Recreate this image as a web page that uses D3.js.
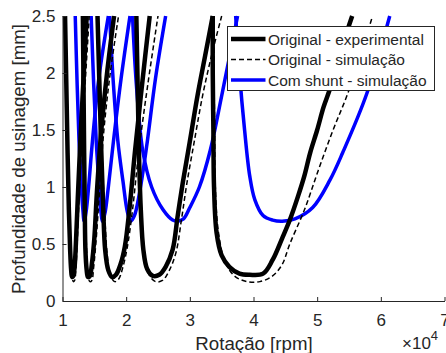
<!DOCTYPE html>
<html>
<head>
<meta charset="utf-8">
<script src="https://cdn.jsdelivr.net/npm/d3@7"></script>
<style>
  body { margin: 0; background: #fff; }
  text { font-family: "Liberation Sans", Arial, sans-serif; fill: #262626; }
</style>
</head>
<body>
<div id="chart"></div>
<script>
// lobes: [rotation (x1e4 rpm), depth (mm)]
var expLobes = [
  [[1.04,2.5],[1.06,1.9],[1.08,1.3],[1.10,0.8],[1.12,0.45],[1.135,0.28],[1.15,0.21],[1.17,0.22],[1.19,0.3],[1.21,0.5],[1.24,0.9],[1.28,1.4],[1.33,1.95],[1.38,2.5]],
  [[1.32,2.5],[1.33,1.9],[1.34,1.3],[1.35,0.8],[1.36,0.45],[1.38,0.27],[1.40,0.21],[1.43,0.22],[1.46,0.32],[1.50,0.55],[1.54,0.95],[1.61,1.5],[1.70,2.0],[1.81,2.5]],
  [[1.55,2.5],[1.58,1.9],[1.61,1.3],[1.64,0.8],[1.67,0.45],[1.72,0.27],[1.78,0.21],[1.84,0.23],[1.91,0.32],[1.98,0.48],[2.05,0.8],[2.14,1.32],[2.25,1.9],[2.37,2.5]],
  [[2.16,2.5],[2.18,1.9],[2.2,1.32],[2.23,0.8],[2.27,0.45],[2.33,0.28],[2.42,0.22],[2.52,0.23],[2.62,0.3],[2.73,0.45],[2.81,0.75],[2.89,1.04],[3.0,1.4],[3.12,1.8],[3.24,2.15],[3.36,2.5]],
  [[3.36,2.5],[3.36,2.0],[3.37,1.5],[3.38,1.0],[3.42,0.6],[3.5,0.4],[3.62,0.3],[3.78,0.24],[3.94,0.23],[4.15,0.24],[4.3,0.36],[4.45,0.55],[4.57,0.71],[4.7,0.92],[4.8,1.1],[4.89,1.3],[5.0,1.5],[5.1,1.7],[5.2,1.86],[5.3,2.05],[5.42,2.28],[5.55,2.5]]
];
var simLobes = [
  [[1.05,2.5],[1.07,1.9],[1.09,1.3],[1.11,0.8],[1.13,0.42],[1.15,0.24],[1.17,0.17],[1.19,0.18],[1.21,0.28],[1.23,0.5],[1.26,0.9],[1.30,1.4],[1.36,1.95],[1.42,2.5]],
  [[1.33,2.5],[1.34,1.9],[1.35,1.3],[1.36,0.8],[1.38,0.42],[1.40,0.23],[1.43,0.17],[1.46,0.18],[1.49,0.3],[1.53,0.55],[1.58,0.95],[1.65,1.5],[1.75,2.0],[1.88,2.5]],
  [[1.56,2.5],[1.59,1.9],[1.62,1.3],[1.66,0.8],[1.70,0.42],[1.75,0.23],[1.82,0.17],[1.88,0.19],[1.95,0.3],[2.02,0.48],[2.10,0.8],[2.20,1.32],[2.34,1.9],[2.50,2.5]],
  [[2.17,2.5],[2.19,1.9],[2.21,1.32],[2.24,0.8],[2.29,0.42],[2.36,0.23],[2.46,0.17],[2.57,0.18],[2.67,0.26],[2.78,0.42],[2.87,0.72],[2.95,1.02],[3.07,1.4],[3.2,1.8],[3.34,2.15],[3.50,2.5]],
  [[3.38,2.5],[3.38,2.0],[3.39,1.5],[3.40,1.0],[3.45,0.6],[3.55,0.35],[3.7,0.22],[3.9,0.17],[4.1,0.17],[4.3,0.22],[4.45,0.32],[4.57,0.5],[4.8,0.8],[5.02,1.15],[5.25,1.5],[5.5,1.85],[5.87,2.5]]
];
var shuntLobes = [
  [[1.20,2.5],[1.23,1.9],[1.26,1.4],[1.29,1.05],[1.32,0.8],[1.34,0.70],[1.37,0.78],[1.41,1.0],[1.47,1.4],[1.57,1.95],[1.72,2.5]],
  [[1.45,2.5],[1.49,1.9],[1.53,1.4],[1.57,1.05],[1.60,0.8],[1.63,0.70],[1.67,0.78],[1.72,1.0],[1.80,1.4],[1.92,1.95],[2.06,2.5]],
  [[1.74,2.5],[1.80,1.9],[1.87,1.4],[1.95,1.05],[2.02,0.78],[2.07,0.70],[2.13,0.75],[2.21,0.95],[2.32,1.35],[2.46,1.95],[2.62,2.5]],
  [[2.10,2.5],[2.16,1.9],[2.26,1.32],[2.40,1.0],[2.58,0.8],[2.73,0.71],[2.81,0.70],[2.9,0.72],[3.0,0.82],[3.15,1.0],[3.32,1.32],[3.5,1.8],[3.75,2.5]],
  [[3.72,2.5],[3.78,2.0],[3.86,1.5],[3.94,1.1],[4.02,0.89],[4.15,0.75],[4.3,0.71],[4.45,0.70],[4.65,0.72],[4.93,0.82],[5.2,1.06],[5.4,1.3],[5.78,1.82],[6.14,2.5]]
];
var seriesNames = ["Original - experimental", "Original - simula\u00e7\u00e3o", "Com shunt - simula\u00e7\u00e3o"];
var xTicks = [1, 2, 3, 4, 5, 6, 7];
var yTicks = [0, 0.5, 1, 1.5, 2, 2.5];

var W = 446, H = 353;
var margin = {top: 16, right: 1.5, bottom: 52, left: 62.5};
var width = W - margin.left - margin.right,
    height = H - margin.top - margin.bottom;

var svg = d3.select("#chart").append("svg")
  .attr("width", W).attr("height", H);
var g = svg.append("g")
  .attr("transform", "translate(" + margin.left + "," + margin.top + ")");

var x = d3.scaleLinear().domain([1, 7]).range([0, width]);
var y = d3.scaleLinear().domain([0, 2.5]).range([height, 0]);

var line = d3.line()
  .x(function(d) { return x(d[0]); })
  .y(function(d) { return y(d[1]); })
  .curve(d3.curveCatmullRom.alpha(0.5));

//blue first, then the black ones on top
g.selectAll(".shunt").data(shuntLobes).enter().append("path")
  .attr("d", line).attr("fill", "none")
  .attr("stroke", "#0000ff").attr("stroke-width", 3.5);
g.selectAll(".exp").data(expLobes).enter().append("path")
  .attr("d", line).attr("fill", "none")
  .attr("stroke", "#000").attr("stroke-width", 4.5);
g.selectAll(".sim").data(simLobes).enter().append("path")
  .attr("d", line).attr("fill", "none")
  .attr("stroke", "#000").attr("stroke-width", 1.5)
  .attr("stroke-dasharray", "5,3");

//axes (matlab style, ticks inside, no box)
var fmt = function(d) { return String(d); };
g.append("g")
  .attr("transform", "translate(0," + height + ")")
  .call(d3.axisBottom(x).tickValues(xTicks).tickFormat(fmt)
    .tickSizeInner(-4).tickSizeOuter(0).tickPadding(13));
g.append("g")
  .call(d3.axisLeft(y).tickValues(yTicks).tickFormat(fmt)
    .tickSizeInner(-4).tickSizeOuter(0).tickPadding(7));
g.selectAll(".domain, .tick line").attr("stroke", "#262626");
g.selectAll(".tick text").attr("font-size", 17).attr("fill", "#262626")
  .attr("font-family", "Liberation Sans, Arial, sans-serif");

svg.append("text")
  .attr("x", 254).attr("y", 350)
  .attr("text-anchor", "middle").attr("font-size", 18.7)
  .text("Rota\u00e7\u00e3o [rpm]");
svg.append("text")
  .attr("transform", "translate(25,159) rotate(-90)")
  .attr("text-anchor", "middle").attr("font-size", 18.7)
  .text("Profundidade de usinagem [mm]");
var mult = svg.append("text").attr("x", 402).attr("y", 349).attr("font-size", 17);
mult.append("tspan").text("\u00d710");
mult.append("tspan").attr("dy", -9).attr("font-size", 13).text("4");

//legend
var leg = svg.append("g").attr("transform", "translate(227.5,26.5)");
leg.append("rect").attr("width", 207).attr("height", 64)
  .attr("fill", "#fff").attr("stroke", "#262626").attr("stroke-width", 1);
var rows = [
  {stroke: "#000", w: 4.5, dash: null},
  {stroke: "#000", w: 1.5, dash: "5,3"},
  {stroke: "#0000ff", w: 3.5, dash: null}
];
rows.forEach(function(r, i) {
  var cy = 12.5 + i * 20.5;
  leg.append("line").attr("x1", 3.5).attr("x2", 38).attr("y1", cy).attr("y2", cy)
    .attr("stroke", r.stroke).attr("stroke-width", r.w)
    .attr("stroke-dasharray", r.dash);
  leg.append("text").attr("x", 40.5).attr("y", cy + 5.5)
    .attr("font-size", 15.5).text(seriesNames[i]);
});
</script>
</body>
</html>
